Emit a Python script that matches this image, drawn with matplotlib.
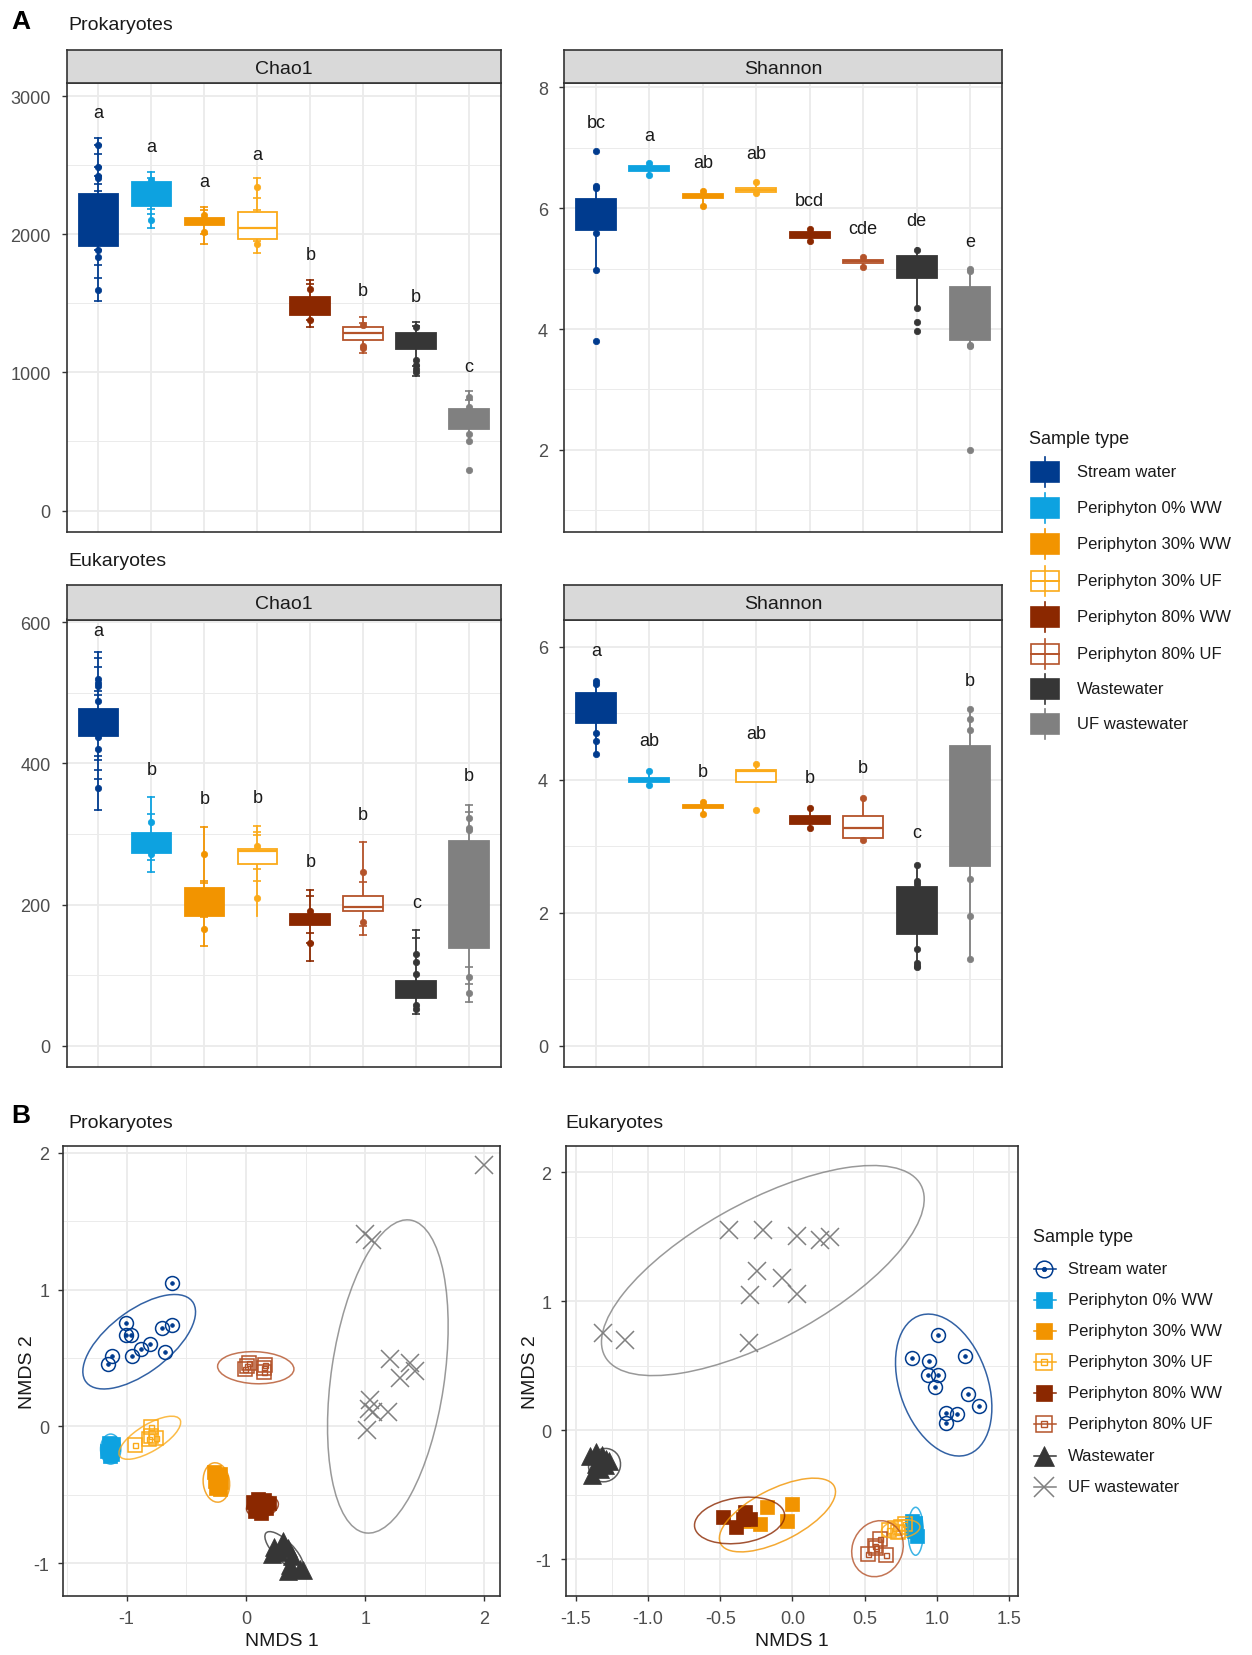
import numpy as np
import matplotlib
matplotlib.use("Agg")
import matplotlib.pyplot as plt
from matplotlib.patches import Ellipse, Rectangle

plt.rcParams['font.family'] = ['Liberation Sans', 'DejaVu Sans']
plt.rcParams['axes.unicode_minus'] = False

# ---------------- data ----------------
groups = ["Stream water", "Periphyton 0% WW", "Periphyton 30% WW", "Periphyton 30% UF",
          "Periphyton 80% WW", "Periphyton 80% UF", "Wastewater", "UF wastewater"]
colors = ['#003B8E', '#0DA2E0', '#F29400', '#FBAA19', '#8B2800', '#B4532A', '#363636', '#808080']
hollow = [False, False, False, True, False, True, False, False]

# Prokaryotes Chao1
pc_q1 = [1918, 2207, 2067, 1970, 1419, 1232, 1170, 591]
pc_med = [2080, 2290, 2095, 2050, 1480, 1289, 1230, 660]
pc_q3 = [2292, 2379, 2122, 2162, 1544, 1332, 1289, 733]
pc_lo = [1521, 2050, 1933, 1863, 1332, 1140, 978, 504]
pc_hi = [2698, 2449, 2200, 2411, 1673, 1401, 1364, 865]
pc_dots = [[2648, 2486, 2424, 2406, 1888, 1838, 1601], [2391, 2105], [2142, 2017], [2342, 1930],
           [1608, 1377], [1344, 1194, 1177], [1327, 1090, 1052, 1027, 1002], [823, 753, 554, 504, 292]]
pc_dash = [[2698, 2648, 2586, 2486, 2424, 2362, 2317, 1888, 1776, 1688, 1521],
           [2449, 2410, 2187, 2150, 2050], [2200, 2175, 2090, 2005, 1933],
           [2411, 2265, 2175, 1955, 1863], [1673, 1638, 1490, 1377, 1332],
           [1401, 1360, 1140], [1364, 1340, 1050, 978], [865, 800, 720, 600]]
pc_let = ["a", "a", "a", "a", "b", "b", "b", "c"]
pc_let_y = [2885, 2636, 2382, 2581, 1858, 1594, 1549, 1045]

# Prokaryotes Shannon
ps_q1 = [5.645, 6.62, 6.16, 6.27, 5.51, 5.09, 4.845, 3.82]
ps_med = [5.9, 6.66, 6.2, 6.30, 5.56, 5.12, 5.0, 4.3]
ps_q3 = [6.15, 6.69, 6.235, 6.33, 5.61, 5.14, 5.215, 4.69]
ps_lo = [4.97, 6.54, 6.04, 6.25, 5.45, 5.03, 4.33, 3.73]
ps_hi = [6.37, 6.75, 6.29, 6.44, 5.66, 5.19, 5.34, 4.99]
ps_dots = [[6.94, 6.37, 6.33, 5.59, 4.97, 3.80], [6.75, 6.54], [6.29, 6.04], [6.44, 6.25],
           [5.66, 5.45], [5.19, 5.03], [5.31, 4.34, 4.12, 3.96], [4.99, 4.96, 3.74, 3.72, 2.00]]
ps_dash = [[], [], [], [], [], [], [], []]
ps_let = ["bc", "a", "ab", "ab", "bcd", "cde", "de", "e"]
ps_let_y = [7.41, 7.2, 6.76, 6.9, 6.125, 5.66, 5.79, 5.45]

# Eukaryotes Chao1
ec_q1 = [439, 273, 184, 257, 171, 191, 67, 139]
ec_med = [455, 285, 205, 276, 178, 197, 80, 220]
ec_q3 = [477, 301, 224, 279, 187, 212, 92, 290]
ec_lo = [334, 246, 142, 184, 120, 157, 45, 62]
ec_hi = [558, 353, 310, 312, 221, 288, 164, 341]
ec_dots = [[519, 514, 510, 489, 437, 420, 365], [317, 272], [271, 166], [283, 210],
           [191, 146], [246, 175], [130, 118, 102, 57, 52], [322, 308, 305, 98, 75]]
ec_dash = [[558, 550, 536, 502, 497, 410, 405, 391, 378, 334], [353, 329, 263, 246],
           [310, 234, 231, 182, 142], [312, 303, 298, 250, 234], [221, 212, 160, 146, 120],
           [288, 232, 170, 157], [164, 152, 45], [341, 331, 111, 87, 62]]
ec_let = ["a", "b", "b", "b", "b", "b", "c", "b"]
ec_let_y = [588, 391, 351, 352, 261, 327, 203, 383]

# Eukaryotes Shannon
es_q1 = [4.86, 3.97, 3.57, 3.97, 3.33, 3.13, 1.68, 2.71]
es_med = [5.1, 4.0, 3.6, 4.13, 3.39, 3.28, 2.0, 3.6]
es_q3 = [5.30, 4.02, 3.62, 4.15, 3.45, 3.46, 2.38, 4.50]
es_lo = [4.39, 3.92, 3.48, 3.97, 3.28, 3.09, 1.18, 1.30]
es_hi = [5.49, 4.13, 3.67, 4.23, 3.57, 3.72, 2.72, 5.06]
es_dots = [[5.49, 5.44, 4.70, 4.59, 4.39], [4.13, 3.92], [3.67, 3.48], [4.23, 3.55],
           [3.57, 3.28], [3.72, 3.09], [2.72, 2.48, 2.43, 1.46, 1.25, 1.20, 1.18],
           [5.06, 4.91, 4.75, 2.51, 1.95, 1.30]]
es_dash = [[], [], [], [], [], [], [], []]
es_let = ["a", "ab", "b", "ab", "b", "b", "c", "b"]
es_let_y = [5.94, 4.59, 4.12, 4.69, 4.03, 4.19, 3.20, 5.50]

# NMDS prokaryotes
pro_x = [
    [-0.617, -1.006, -1.006, -0.964, -0.703, -0.617, -0.800, -0.875, -0.958, -0.681, -1.119, -1.153],
    [-1.15, -1.13, -1.16, -1.12, -1.14, -1.11, -1.15, -1.12],
    [-0.27, -0.22, -0.26, -0.21, -0.25, -0.22, -0.24],
    [-0.925, -0.793, -0.798, -0.751, -0.81],
    [0.06, 0.10, 0.15, 0.19, 0.08, 0.13, 0.17, 0.12],
    [0.006, 0.028, 0.153, 0.158, 0.153, -0.01],
    [0.31, 0.24, 0.22, 0.35, 0.39, 0.37, 0.45, 0.35, 0.48, 0.28],
    [1.0, 1.056, 1.994, 1.208, 1.375, 1.417, 1.292, 1.042, 1.028, 1.069, 1.194, 1.014]]
pro_y = [
    [1.049, 0.755, 0.669, 0.669, 0.716, 0.742, 0.599, 0.565, 0.513, 0.541, 0.513, 0.455],
    [-0.12, -0.15, -0.18, -0.20, -0.22, -0.13, -0.16, -0.17],
    [-0.33, -0.35, -0.40, -0.41, -0.45, -0.46, -0.38],
    [-0.135, -0.007, -0.069, -0.088, -0.093],
    [-0.55, -0.53, -0.54, -0.56, -0.62, -0.63, -0.60, -0.58],
    [0.442, 0.46, 0.429, 0.45, 0.398, 0.42],
    [-0.84, -0.88, -0.93, -0.89, -0.95, -1.01, -1.04, -1.06, -1.05, -0.92],
    [1.405, 1.366, 1.913, 0.494, 0.46, 0.403, 0.351, 0.195, 0.13, 0.104, 0.104, -0.026]]
# ellipses: centre x, centre y, semi-axis a, semi-axis b, angle (deg)
pro_ell_cx = [-0.894, -1.133, -0.247, -0.805, 0.139, 0.083, 0.32, 1.19]
pro_ell_cy = [0.619, -0.166, -0.41, -0.083, -0.585, 0.429, -0.91, 0.365]
pro_ell_a = [0.535, 0.11, 0.145, 0.286, 0.135, 0.32, 0.20, 1.159]
pro_ell_b = [0.237, 0.085, 0.11, 0.10, 0.075, 0.117, 0.075, 0.473]
pro_ell_ang = [31.6, 90, 100, 27, 10, -2, -40, 80.3]

# NMDS eukaryotes
euk_x = [
    [1.01, 0.83, 0.947, 1.192, 0.935, 1.01, 0.989, 1.216, 1.29, 1.064, 1.141, 1.059],
    [0.83, 0.85, 0.84, 0.86, 0.83, 0.85],
    [-0.175, -0.005, -0.222, -0.04, -0.30],
    [0.67, 0.71, 0.75, 0.78, 0.73],
    [-0.483, -0.331, -0.39, -0.296, -0.34],
    [0.602, 0.572, 0.52, 0.649, 0.58],
    [-1.40, -1.36, -1.32, -1.29, -1.36, -1.33, -1.39, -1.30, -1.27],
    [-0.437, -0.203, 0.03, 0.187, 0.257, -0.245, -0.07, -0.292, 0.03, -1.309, -1.157, -0.299]]
euk_y = [
    [0.742, 0.562, 0.535, 0.578, 0.429, 0.429, 0.337, 0.284, 0.186, 0.133, 0.127, 0.053],
    [-0.70, -0.74, -0.78, -0.82, -0.76, -0.72],
    [-0.597, -0.571, -0.727, -0.701, -0.70],
    [-0.77, -0.76, -0.75, -0.73, -0.79],
    [-0.675, -0.636, -0.753, -0.688, -0.688],
    [-0.844, -0.896, -0.961, -0.969, -0.91],
    [-0.20, -0.17, -0.19, -0.22, -0.26, -0.30, -0.35, -0.27, -0.24],
    [1.55, 1.55, 1.51, 1.479, 1.497, 1.232, 1.179, 1.047, 1.055, 0.755, 0.702, 0.676]]
euk_ell_cx = [1.046, 0.852, -0.104, 0.748, -0.366, 0.588, -1.30, -0.205]
euk_ell_cy = [0.351, -0.783, -0.657, -0.766, -0.699, -0.918, -0.27, 1.239]
euk_ell_a = [0.565, 0.186, 0.452, 0.135, 0.315, 0.22, 0.13, 1.28]
euk_ell_b = [0.308, 0.053, 0.197, 0.07, 0.175, 0.175, 0.11, 0.521]
euk_ell_ang = [-74.4, 90, 30.6, 10, 10, 75, 80, 32.4]

kinds = ['circle', 'square', 'square', 'opensq', 'square', 'opensq', 'tri', 'x']

# ---------------- figure ----------------
W, H = 1252, 1656
DPI = 100
fig = plt.figure(figsize=(W / DPI, H / DPI), dpi=DPI)

GRID = '#ebebeb'
BORDER = '#333333'
TICKC = '#4d4d4d'


def px_axes(x0, y0, x1, y1):
    return fig.add_axes([x0 / W, 1 - y1 / H, (x1 - x0) / W, (y1 - y0) / H])


def style(ax, pad):
    ax.set_facecolor('white')
    for s in ax.spines.values():
        s.set_color(BORDER)
        s.set_linewidth(1.2)
    ax.tick_params(axis='both', which='major', colors=BORDER, labelcolor=TICKC,
                   labelsize=13, length=3.5, width=1.0, pad=pad)
    ax.tick_params(axis='both', which='minor', length=0)
    ax.grid(which='major', color=GRID, linewidth=1.3)
    ax.grid(which='minor', color=GRID, linewidth=0.7)
    ax.set_axisbelow(True)


def strip(x0, y0, x1, y1, label):
    s = px_axes(x0, y0, x1, y1)
    s.set_facecolor('#d9d9d9')
    s.set_xticks([])
    s.set_yticks([])
    for sp in s.spines.values():
        sp.set_color(BORDER)
        sp.set_linewidth(1.2)
    s.text(0.5, 0.45, label, transform=s.transAxes, ha='center', va='center',
           fontsize=14, color='#1a1a1a')


def box_panel(rect, strip_top, label, q1, med, q3, lo, hi, dots, dash, lets, let_y,
              ylim, yticks, yminor):
    x0, y0, x1, y1 = rect
    ax = px_axes(x0, y0, x1, y1)
    style(ax, 8)
    strip(x0, strip_top, x1, y0, label)
    pos = np.arange(1, len(groups) + 1)
    stats = [dict(q1=a, med=m, q3=b, whislo=l, whishi=h, fliers=[])
             for a, m, b, l, h in zip(q1, med, q3, lo, hi)]
    bp = ax.bxp(stats, positions=pos, widths=0.75, patch_artist=True, showcaps=False,
                showfliers=False, manage_ticks=False, zorder=2)
    for i, c in enumerate(colors):
        p = bp['boxes'][i]
        p.set_facecolor('white' if hollow[i] else c)
        p.set_edgecolor(c)
        p.set_linewidth(1.3)
        p.set_zorder(3)
        bp['medians'][i].set_color(c)
        bp['medians'][i].set_linewidth(1.6)
        bp['medians'][i].set_zorder(3.5)
        for w in bp['whiskers'][2 * i:2 * i + 2]:
            w.set_color(c)
            w.set_linewidth(1.3)
        if dash[i]:
            ax.plot([pos[i]] * len(dash[i]), dash[i], ls='none', marker='_', ms=5.5,
                    mew=1.2, color=c, zorder=4)
        ax.plot([pos[i]] * len(dots[i]), dots[i], ls='none', marker='o', ms=4.6,
                mfc=c, mec=c, mew=0.5, zorder=5)
        ax.text(pos[i], let_y[i], lets[i], ha='center', va='center', fontsize=13,
                color='#1a1a1a', zorder=6)
    ax.set_xlim(0.4, 8.6)
    ax.set_ylim(*ylim)
    ax.set_xticks(pos)
    ax.tick_params(axis='x', length=0, labelbottom=False)
    ax.set_yticks(yticks)
    ax.set_yticks(yminor, minor=True)
    return ax


box_panel((66.7, 84, 501, 532.5), 50.7, 'Chao1', pc_q1, pc_med, pc_q3, pc_lo, pc_hi,
          pc_dots, pc_dash, pc_let, pc_let_y, (-152, 3097), [0, 1000, 2000, 3000], [500, 1500, 2500])
box_panel((564, 84, 1002, 532.5), 50.7, 'Shannon', ps_q1, ps_med, ps_q3, ps_lo, ps_hi,
          ps_dots, ps_dash, ps_let, ps_let_y, (0.65, 8.07), [2, 4, 6, 8], [1, 3, 5, 7])
box_panel((66.7, 620.5, 501, 1068.3), 586, 'Chao1', ec_q1, ec_med, ec_q3, ec_lo, ec_hi,
          ec_dots, ec_dash, ec_let, ec_let_y, (-30.6, 604), [0, 200, 400, 600], [100, 300, 500])
box_panel((564, 620.5, 1002, 1068.3), 586, 'Shannon', es_q1, es_med, es_q3, es_lo, es_hi,
          es_dots, es_dash, es_let, es_let_y, (-0.325, 6.41), [0, 2, 4, 6], [1, 3, 5])


def draw_markers(ax, x, y, kind, c, s=1.0):
    if kind == 'circle':
        ax.plot(x, y, ls='none', marker='o', ms=10 * s, mfc='none', mec=c, mew=1.1, zorder=3)
        ax.plot(x, y, ls='none', marker='o', ms=2.6 * s, mfc=c, mec=c, mew=0.6, zorder=3)
    elif kind == 'square':
        ax.plot(x, y, ls='none', marker='s', ms=10 * s, mfc=c, mec=c, mew=0.5, zorder=3)
    elif kind == 'opensq':
        ax.plot(x, y, ls='none', marker='s', ms=10 * s, mfc='none', mec=c, mew=1.1, zorder=3)
        ax.plot(x, y, ls='none', marker='s', ms=3.6 * s, mfc='none', mec=c, mew=1.0, zorder=3)
    elif kind == 'tri':
        ax.plot(x, y, ls='none', marker='^', ms=12.5 * s, mfc=c, mec=c, mew=0.5, zorder=3)
    elif kind == 'x':
        ax.plot(x, y, ls='none', marker='x', ms=12.5 * s, mec=c, mew=1.1, zorder=3)


def nmds_panel(rect, xs, ys, ecx, ecy, ea, eb, eang, xlim, ylim, xt, xminor, yt, yminor, fmt):
    ax = px_axes(*rect)
    style(ax, 6.5)
    for i, c in enumerate(colors):
        draw_markers(ax, xs[i], ys[i], kinds[i], c)
    for i, c in enumerate(colors):
        ax.add_patch(Ellipse((ecx[i], ecy[i]), 2 * ea[i], 2 * eb[i], angle=eang[i],
                             fill=False, edgecolor=c, linewidth=1.1, alpha=0.8, zorder=4))
    ax.set_xlim(*xlim)
    ax.set_ylim(*ylim)
    ax.set_xticks(xt)
    ax.set_xticks(xminor, minor=True)
    ax.set_yticks(yt)
    ax.set_yticks(yminor, minor=True)
    ax.set_xticklabels([fmt % v for v in xt])
    ax.set_yticklabels(['%d' % v for v in yt])
    ax.set_xlabel('NMDS 1', fontsize=14, color='#1a1a1a', labelpad=4)
    ax.set_ylabel('NMDS 2', fontsize=14, color='#1a1a1a', labelpad=-2)
    return ax


nmds_panel((63.3, 1147, 500, 1597), pro_x, pro_y, pro_ell_cx, pro_ell_cy, pro_ell_a, pro_ell_b,
           pro_ell_ang, (-1.53, 2.13), (-1.24, 2.05), [-1, 0, 1, 2], [-1.5, -0.5, 0.5, 1.5],
           [-1, 0, 1, 2], [-0.5, 0.5, 1.5], '%d')
nmds_panel((565.5, 1147, 1018, 1597), euk_x, euk_y, euk_ell_cx, euk_ell_cy, euk_ell_a, euk_ell_b,
           euk_ell_ang, (-1.57, 1.56), (-1.285, 2.205), [-1.5, -1.0, -0.5, 0.0, 0.5, 1.0, 1.5],
           [-1.25, -0.75, -0.25, 0.25, 0.75, 1.25], [-1, 0, 1, 2], [-0.5, 0.5, 1.5], '%.1f')

# ---------------- titles ----------------
fig.text(11 / W, 1 - 22 / H, 'A', fontsize=19, fontweight='bold', va='center')
fig.text(68 / W, 1 - 26 / H, 'Prokaryotes', fontsize=14, va='center', color='#1a1a1a')
fig.text(68 / W, 1 - 561 / H, 'Eukaryotes', fontsize=14, va='center', color='#1a1a1a')
fig.text(11 / W, 1 - 1116 / H, 'B', fontsize=19, fontweight='bold', va='center')
fig.text(68 / W, 1 - 1123 / H, 'Prokaryotes', fontsize=14, va='center', color='#1a1a1a')
fig.text(565 / W, 1 - 1123 / H, 'Eukaryotes', fontsize=14, va='center', color='#1a1a1a')

# ---------------- legend A ----------------
la = px_axes(1010, 400, 1252, 750)
la.set_xlim(1010, 1252)
la.set_ylim(750, 400)
la.axis('off')
la.text(1029, 440, 'Sample type', fontsize=13, va='center', color='#1a1a1a')
leg_a_y = [473, 509, 545, 582, 618, 655, 690, 725]
for i, c in enumerate(colors):
    y = leg_a_y[i]
    la.plot([1045, 1045], [y - 15, y + 15], color=c, lw=1.2)
    la.add_patch(Rectangle((1031, y - 10), 28, 20, facecolor='white' if hollow[i] else c,
                           edgecolor=c, lw=1.2))
    if hollow[i]:
        la.plot([1031, 1059], [y, y], color=c, lw=1.4)
    la.text(1077, y, groups[i], fontsize=12, va='center', color='#1a1a1a')

# ---------------- legend B ----------------
lb = px_axes(1010, 1210, 1252, 1510)
lb.set_xlim(1010, 1252)
lb.set_ylim(1510, 1210)
lb.axis('off')
lb.text(1033, 1238, 'Sample type', fontsize=13, va='center', color='#1a1a1a')
leg_b_y = [1270, 1301, 1332, 1363, 1394, 1425, 1457, 1488]
for i, c in enumerate(colors):
    y = leg_b_y[i]
    lb.plot([1034, 1056], [y, y], color=c, lw=1.1, zorder=2)
    draw_markers(lb, [1044], [y], kinds[i], c, s=1.2)
    lb.text(1068, y, groups[i], fontsize=12, va='center', color='#1a1a1a')

fig.savefig('out.png', dpi=DPI)
